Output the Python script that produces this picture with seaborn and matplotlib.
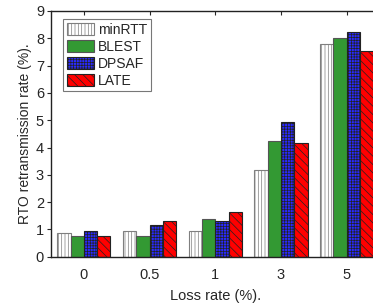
import matplotlib
matplotlib.use("Agg")
import matplotlib.pyplot as plt
import seaborn as sns
import pandas as pd
from matplotlib.patches import Patch

categories = ["0", "0.5", "1", "3", "5"]
schemes = ["minRTT", "BLEST", "DPSAF", "LATE"]
minrtt = [0.86, 0.94, 0.94, 3.16, 7.78]
blest = [0.77, 0.77, 1.39, 4.24, 8.00]
dpsaf = [0.94, 1.16, 1.32, 4.92, 8.23]
late = [0.77, 1.32, 1.64, 4.15, 7.53]

colors = ["#ffffff", "#339933", "#2a2aff", "#ff0000"]
hatches = ["|||||", "", "++++++", "\\\\\\\\"]
edges = ["#7f7f7f", "#555555", "#222222", "#222222"]

rows = []
for s, vals in zip(schemes, [minrtt, blest, dpsaf, late]):
    for c, v in zip(categories, vals):
        rows.append({"loss": c, "scheme": s, "rate": v})
df = pd.DataFrame(rows)

sns.set_theme(style="ticks")
plt.rcParams["font.family"] = ["Liberation Sans", "DejaVu Sans"]
plt.rcParams["hatch.linewidth"] = 0.5

fig = plt.figure(figsize=(3.73, 3.03), dpi=100)
ax = fig.add_axes([51 / 373, 1 - 256.7 / 303, (379.5 - 51) / 373, (256.7 - 11) / 303])

sns.barplot(data=df, x="loss", y="rate", hue="scheme", order=categories,
            hue_order=schemes, palette=colors, width=0.81, ax=ax,
            errorbar=None, saturation=1, legend=False)

for cont, h, ec in zip(ax.containers, hatches, edges):
    for p in cont:
        p.set_hatch(h)
        p.set_edgecolor(ec)
        p.set_linewidth(0.8)

handles = [Patch(facecolor=c, edgecolor=e, hatch=h, linewidth=0.8, label=s)
           for c, e, h, s in zip(colors, edges, hatches, schemes)]
leg = ax.legend(handles=handles, loc="upper left", bbox_to_anchor=(0.037, 0.966),
                prop={"size": 10}, frameon=True, fancybox=False, edgecolor="#555555",
                handlelength=2.0, handleheight=1.0, labelspacing=0.22,
                handletextpad=0.25, borderpad=0.25, borderaxespad=0.0)
leg.get_frame().set_linewidth(0.8)

ax.set_ylim(0, 9)
ax.set_xlim(-0.5, 4.5)
ax.set_yticks(range(10))
ax.set_xlabel("Loss rate (%).", fontsize=10.5, labelpad=5)
ax.set_ylabel("RTO retransmission rate (%).", fontsize=10, labelpad=3)
ax.tick_params(axis="x", direction="in", top=True, bottom=True, length=3,
               labelsize=10.5, pad=8, width=0.8)
ax.tick_params(axis="y", direction="out", length=3, labelsize=10.5, width=0.8, pad=2)
for sp in ax.spines.values():
    sp.set_visible(True)
    sp.set_linewidth(1.0)
    sp.set_color("#222222")

fig.savefig("out.png", dpi=100)
